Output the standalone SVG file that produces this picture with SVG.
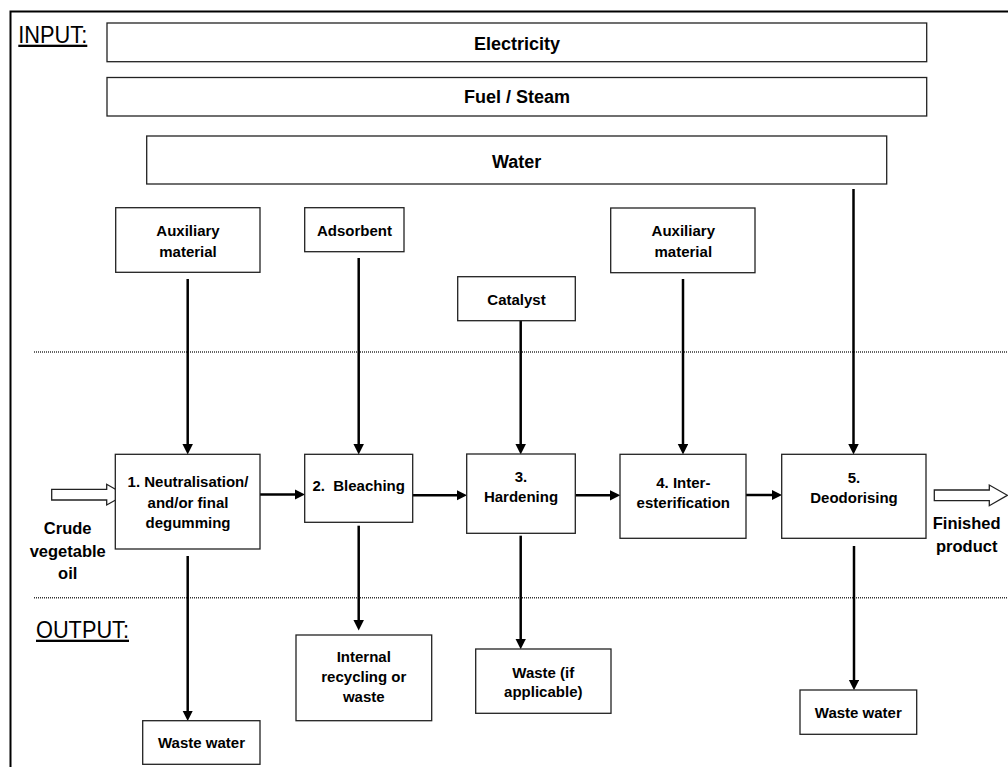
<svg xmlns="http://www.w3.org/2000/svg" width="1008" height="767" viewBox="0 0 1008 767">
<style>
.box{fill:#fff;stroke:#222;stroke-width:1.3}
.t{font-family:"Liberation Sans",Arial,sans-serif;font-weight:bold;font-size:15px;fill:#000;text-anchor:middle}
.big{font-size:18px}
.lbl{font-size:16.5px}
.hd{font-family:"Liberation Sans",Arial,sans-serif;font-size:23px;fill:#000;text-decoration:underline}
.c{stroke:#000;stroke-width:2.5;fill:none}
.hol{fill:#fff;stroke:#222;stroke-width:1.3}
.dot{stroke:#333;stroke-width:1.4;stroke-dasharray:1 1;fill:none}
</style>
<defs>
<marker id="ah" markerUnits="userSpaceOnUse" markerWidth="11" markerHeight="11" viewBox="0 0 11 11" refX="6" refY="5.25" orient="auto">
<path d="M0,0 L10.5,5.25 L0,10.5 z" fill="#000"/>
</marker>
</defs>
<rect width="1008" height="767" fill="#fff"/>
<path d="M10.5,767 L10.5,11.5 L1008,11.5" fill="none" stroke="#000" stroke-width="2"/>
<line class="dot" x1="34" y1="352" x2="1008" y2="352"/>
<line class="dot" x1="34" y1="597.7" x2="1008" y2="597.7"/>
<text class="hd" x="18.3" y="42.7" textLength="69" lengthAdjust="spacingAndGlyphs">INPUT:</text>
<text class="hd" x="36" y="637.7" textLength="93" lengthAdjust="spacingAndGlyphs">OUTPUT:</text>

<g id="connectors">
<line class="c" x1="187.7" y1="279" x2="187.7" y2="450" marker-end="url(#ah)"/>
<line class="c" x1="358.7" y1="258" x2="358.7" y2="450" marker-end="url(#ah)"/>
<line class="c" x1="520.7" y1="320.7" x2="520.7" y2="450" marker-end="url(#ah)"/>
<line class="c" x1="683" y1="279" x2="683" y2="450" marker-end="url(#ah)"/>
<line class="c" x1="853.5" y1="189" x2="853.5" y2="450" marker-end="url(#ah)"/>
<line class="c" x1="260" y1="494.5" x2="300.5" y2="494.5" marker-end="url(#ah)"/>
<line class="c" x1="412.7" y1="495.3" x2="462.5" y2="495.3" marker-end="url(#ah)"/>
<line class="c" x1="575.3" y1="495.3" x2="615.8" y2="495.3" marker-end="url(#ah)"/>
<line class="c" x1="746" y1="495" x2="777.5" y2="495" marker-end="url(#ah)"/>
<line class="c" x1="187.7" y1="556" x2="187.7" y2="716.5" marker-end="url(#ah)"/>
<line class="c" x1="358.7" y1="525.7" x2="358.7" y2="626" marker-end="url(#ah)"/>
<line class="c" x1="520.7" y1="535.7" x2="520.7" y2="644.8" marker-end="url(#ah)"/>
<line class="c" x1="854" y1="546" x2="854" y2="685.8" marker-end="url(#ah)"/>
<path class="hol" d="M51.7,489.3 L106.7,489.3 L106.7,484.3 L125,494.7 L106.7,505 L106.7,500 L51.7,500 z"/>
<path class="hol" d="M934.3,490 L989.3,490 L989.3,485 L1007.3,495.3 L989.3,505.7 L989.3,500.7 L934.3,500.7 z"/>
</g>

<g id="electricity"><rect class="box" x="107" y="23" width="819.7" height="38.7"/><text class="t big" x="517" y="50">Electricity</text></g>
<g id="fuel"><rect class="box" x="107" y="77.5" width="819.7" height="38.5"/><text class="t big" x="517" y="103.3">Fuel / Steam</text></g>
<g id="water"><rect class="box" x="146.7" y="136" width="740" height="48"/><text class="t big" x="516.7" y="167.7">Water</text></g>

<g id="aux1"><rect class="box" x="115.7" y="207.7" width="144.3" height="64.6"/><text class="t" x="188" y="236">Auxiliary</text><text class="t" x="188" y="256.7">material</text></g>
<g id="adsorbent"><rect class="box" x="304.7" y="207.7" width="99.3" height="44"/><text class="t" x="354.4" y="236">Adsorbent</text></g>
<g id="catalyst"><rect class="box" x="457.7" y="276.7" width="117.6" height="44"/><text class="t" x="516.5" y="305">Catalyst</text></g>
<g id="aux2"><rect class="box" x="610.7" y="208" width="144.3" height="64.7"/><text class="t" x="683.3" y="236">Auxiliary</text><text class="t" x="683.3" y="256.7">material</text></g>

<g id="crude"><text class="t lbl" x="67.7" y="534">Crude</text><text class="t lbl" x="67.7" y="556.5">vegetable</text><text class="t lbl" x="67.7" y="579">oil</text></g>
<g id="finished"><text class="t lbl" x="966.7" y="529">Finished</text><text class="t lbl" x="966.7" y="551.5">product</text></g>

<g id="step1"><rect class="box" x="115.3" y="454.3" width="144.7" height="94.7"/><text class="t" x="188" y="487">1. Neutralisation/</text><text class="t" x="188" y="507.5">and/or final</text><text class="t" x="188" y="528">degumming</text></g>
<g id="step2"><rect class="box" x="304.7" y="454.3" width="108" height="68"/><text class="t" x="358.7" y="490.5" xml:space="preserve" style="white-space:pre">2.  Bleaching</text></g>
<g id="step3"><rect class="box" x="466.7" y="454" width="108.6" height="79.3"/><text class="t" x="521" y="481.5">3.</text><text class="t" x="521" y="502">Hardening</text></g>
<g id="step4"><rect class="box" x="620" y="454.3" width="126" height="84"/><text class="t" x="683.3" y="488.3">4. Inter-</text><text class="t" x="683.3" y="508.3">esterification</text></g>
<g id="step5"><rect class="box" x="781.7" y="454.3" width="144.3" height="84"/><text class="t" x="854" y="482.7">5.</text><text class="t" x="854" y="502.7">Deodorising</text></g>

<g id="waste1"><rect class="box" x="142.7" y="720.7" width="117.3" height="43.6"/><text class="t" x="201.5" y="748.3">Waste water</text></g>
<g id="recycling"><rect class="box" x="296" y="635" width="135.7" height="85.7"/><text class="t" x="363.8" y="661.5">Internal</text><text class="t" x="363.8" y="681.5">recycling or</text><text class="t" x="363.8" y="701.5">waste</text></g>
<g id="waste3"><rect class="box" x="475.7" y="649" width="135.3" height="64.3"/><text class="t" x="543.3" y="677.5">Waste (if</text><text class="t" x="543.3" y="697">applicable)</text></g>
<g id="waste5"><rect class="box" x="800" y="690" width="116.7" height="44.3"/><text class="t" x="858.3" y="718.3">Waste water</text></g>
</svg>
